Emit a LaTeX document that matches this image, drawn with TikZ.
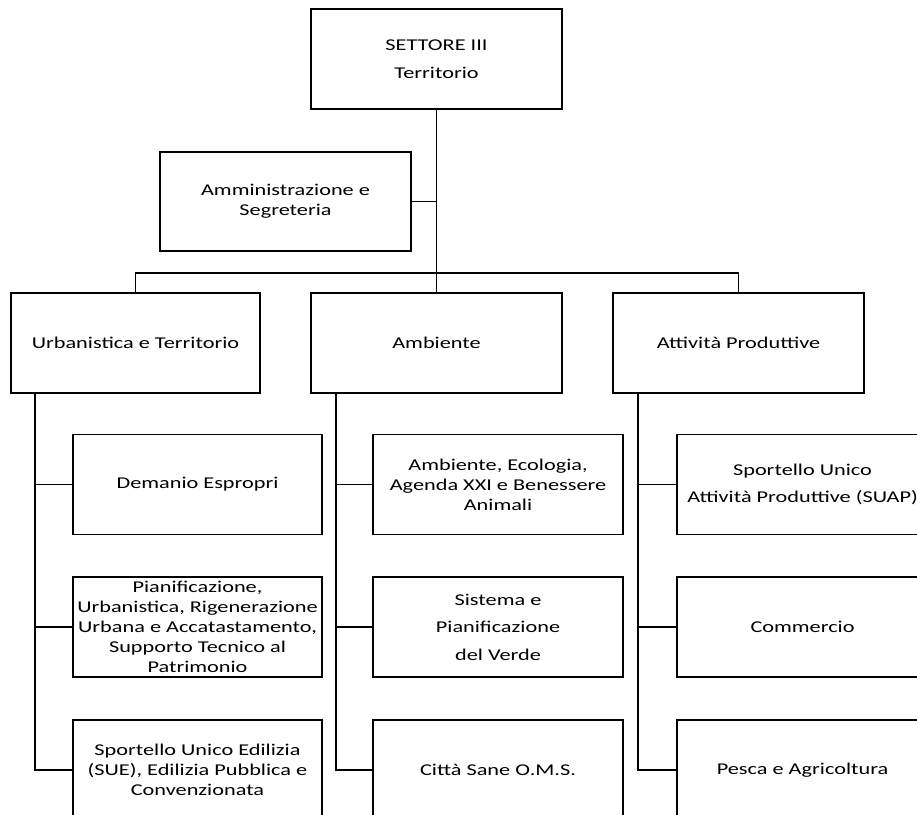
\documentclass[tikz,border=0pt]{standalone}
\usepackage{fontspec}
\setmainfont{Carlito}[FakeStretch=1.35]
\tikzset{
  unit/.style={draw, line width=1.1pt, minimum width=251pt, minimum height=100pt,
    inner sep=0pt, align=center, font=\fontsize{16.5}{20}\selectfont},
  loose/.style={font=\fontsize{16.5}{27.5}\selectfont},
  link/.style={line width=1.1pt}
}
\begin{document}
\begin{tikzpicture}[x=1pt,y=-1pt]
\useasboundingbox (0,0) rectangle (917,814);
\clip (0,0) rectangle (917,814);
\node[unit,loose] (settore) at (436.5,59) {SETTORE III\\Territorio};
\node[unit,minimum height=99pt] (admin) at (285.5,201.5) {Amministrazione e\\Segreteria};
\node[unit,minimum width=249pt] (urb) at (135.5,343) {Urbanistica e Territorio};
\node[unit] (amb) at (436.5,343) {Ambiente};
\node[unit] (att) at (738.5,343) {Attività Produttive};

\node[unit,minimum width=249pt] (dem) at (197.5,484.5) {Demanio Espropri};
\node[unit,minimum width=249pt] (pia) at (197.5,627) {Pianificazione,\\Urbanistica, Rigenerazione\\Urbana e Accatastamento,\\Supporto Tecnico al\\Patrimonio};
\node[unit,minimum width=249pt] (sue) at (197.5,770) {Sportello Unico Edilizia\\(SUE), Edilizia Pubblica e\\Convenzionata};

\node[unit,minimum width=250pt] (eco) at (498,484.5) {Ambiente, Ecologia,\\Agenda XXI e Benessere\\Animali};
\node[unit,minimum width=250pt,loose] (verde) at (498,627) {Sistema e\\Pianificazione\\del Verde};
\node[unit,minimum width=250pt] (oms) at (498,770) {Città Sane O.M.S.};

\node[unit,loose] (suap) at (802.5,484.5) {Sportello Unico\\Attività Produttive (SUAP)};
\node[unit] (comm) at (802.5,627) {Commercio};
\node[unit] (pesca) at (802.5,770) {Pesca e Agricoltura};

\coordinate (bus) at (436.5,273);
\coordinate (urbline) at (35,393);
\coordinate (ambline) at (336,393);
\coordinate (attline) at (638,393);

\draw[link] (settore) -- (bus);
\draw[link] (admin.east) -- (admin.east -| bus);
\draw[link] (urb.north) |- (bus) -| (att.north);
\draw[link] (bus) -- (amb.north);

\draw[link] (urbline) |- (sue.west);
\draw[link] (urbline |- dem.west) -- (dem.west);
\draw[link] (urbline |- pia.west) -- (pia.west);
\draw[link] (ambline) |- (oms.west);
\draw[link] (ambline |- eco.west) -- (eco.west);
\draw[link] (ambline |- verde.west) -- (verde.west);
\draw[link] (attline) |- (pesca.west);
\draw[link] (attline |- suap.west) -- (suap.west);
\draw[link] (attline |- comm.west) -- (comm.west);
\end{tikzpicture}
\end{document}
